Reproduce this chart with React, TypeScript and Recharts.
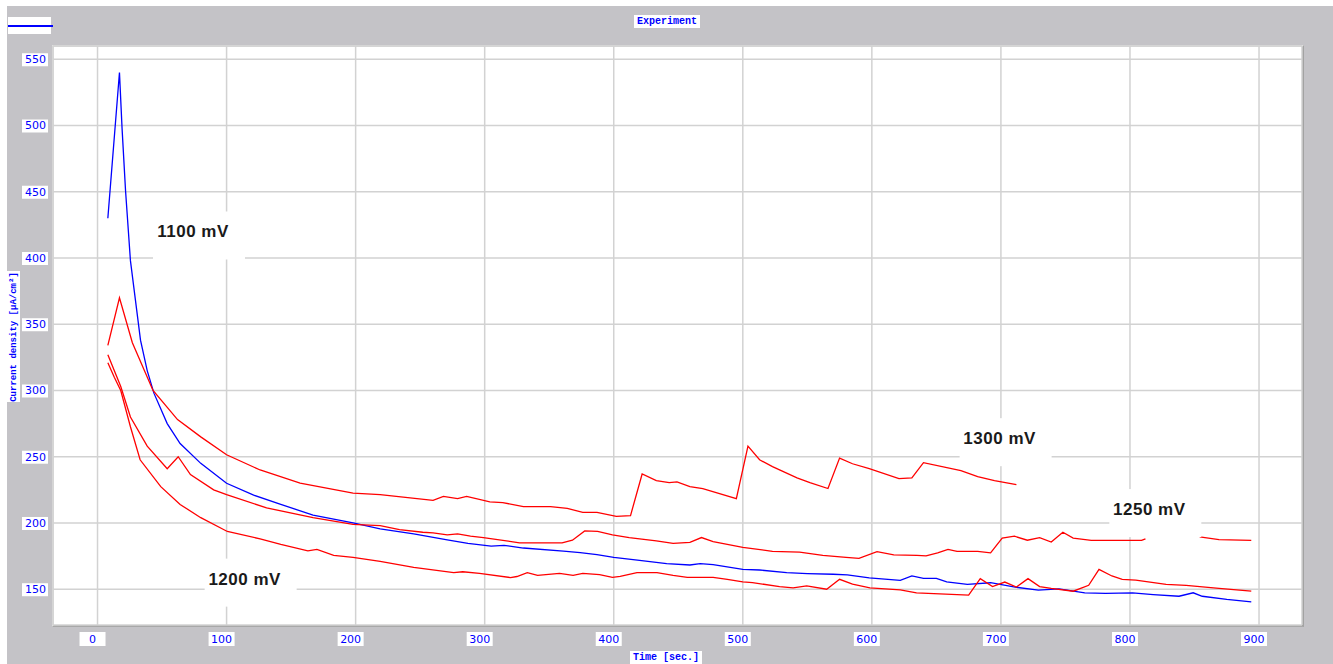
import React from 'react'
import { LineChart, Line, XAxis, YAxis, CartesianGrid, ReferenceDot } from 'recharts'

// time axis (sec.) and current density (µA/cm²) per potential
const t1100 = [8, 17, 19, 21.7, 25.5, 29.4, 33.3, 38.5, 43.7, 54, 64, 80, 100, 121, 142, 167, 198, 219, 245, 271, 287, 305, 315, 330, 361, 374, 387, 400, 420, 441, 459, 467, 477, 500, 513, 534, 550, 570, 581, 598, 622, 631, 640, 650, 658, 674, 692, 711, 729, 745, 765, 781, 802, 818, 838, 849, 856, 875, 894]
const j1100 = [430, 540, 498, 451, 398, 368, 338, 315, 298, 275, 260, 245, 230, 221, 214, 206, 200, 195.5, 191.8, 187.3, 184.6, 182.6, 183.1, 181.1, 178.8, 177.6, 176.1, 174.1, 171.8, 169.3, 168.3, 169.3, 168.5, 165, 164.5, 162.5, 161.8, 161.3, 160.8, 158.5, 156.7, 160, 158.2, 158.2, 155.6, 153.6, 154.9, 151.6, 149.3, 150.3, 147.3, 146.8, 147.3, 146, 144.7, 147.3, 144.7, 142.3, 140.5]

const t1300 = [8, 17, 27, 43, 62, 80, 100, 126, 157, 198, 219, 260, 268, 279, 286, 304, 314, 330, 351, 364, 376, 387, 402, 413, 422, 433, 443, 449, 459, 469, 495, 504, 513, 523, 542, 552, 566, 575, 585, 598, 621, 631, 640, 669, 682, 695, 712]
const j1300 = [334, 370, 336, 300, 278, 265, 251.5, 240, 230, 222.5, 221.4, 217, 220, 218.4, 220, 216, 215.4, 212.4, 212.4, 211, 208, 208, 205, 205.6, 237, 232, 230.5, 231, 227.4, 226, 218.4, 258, 247.7, 242.5, 234, 230.5, 226, 249, 244.7, 241, 233.5, 234, 245.5, 239.5, 235, 232, 229]

const t1250 = [8, 18, 25.5, 38.5, 54, 62.5, 72, 90, 100, 131, 167, 198, 219, 234, 252, 260, 271, 279, 289, 299, 327, 360, 368, 377.5, 387.5, 399, 412, 433, 446, 459, 468, 477, 500, 523, 544, 562, 580, 590, 604, 617, 635, 642, 651, 659, 666, 682, 692, 701, 710.5, 720.5, 730, 739, 748, 756, 770, 809, 812, 833, 854, 869, 894]
const j1250 = [327, 303, 280, 258, 241, 250, 236.5, 225, 221.4, 211.4, 204, 199, 198, 195, 193, 192.5, 191, 191.7, 190, 189, 185, 185, 187, 194, 193.6, 191, 189, 186.5, 184.6, 185.3, 189, 186, 181.6, 178.6, 178, 175.6, 174, 173.3, 178.3, 176, 175.6, 175.2, 177.4, 180, 178.5, 178.5, 177.4, 188.6, 190, 187, 189, 185.6, 193, 188.6, 186.8, 186.8, 188, null, 189.5, 187.5, 186.8]

const t1200 = [8, 13, 18, 25.5, 33, 49, 64, 80, 100.6, 126, 142, 163, 170, 183, 198, 219, 245, 276, 283, 296, 320, 325, 333, 341, 358, 368.5, 376, 389, 399, 405, 418, 433.5, 446, 457, 477, 488, 500, 507.5, 528.5, 539, 549.5, 565, 575, 585, 598.5, 622, 634.6, 675, 684, 693.5, 703, 712, 721, 730, 739, 756, 768, 776, 786, 794, 804.5, 828, 843.5, 869, 894]
const j1200 = [321, 310, 300, 272.6, 247.7, 227.4, 214, 204, 193.6, 188, 183.8, 179, 180, 175.6, 174, 171, 166.5, 162.5, 163.2, 162, 158.8, 159.6, 162.5, 160.5, 162, 160.5, 162, 161, 159, 159.7, 162.5, 162.5, 160.5, 159, 159, 157.5, 155.5, 155, 152, 151, 152.5, 150, 157.5, 153.8, 151, 149.5, 147.3, 145.5, 158, 152, 155.4, 151.6, 158, 152, 150.6, 148.5, 153, 165, 160, 157.4, 156.9, 153.6, 152.9, 150.6, 148.5]

const xTicks = [0, 100, 200, 300, 400, 500, 600, 700, 800, 900]
const yTicks = [150, 200, 250, 300, 350, 400, 450, 500, 550]

const labelText = ['1100 mV', '1200 mV', '1300 mV', '1250 mV']
const labelTime = [74, 114, 699, 815]
const labelDensity = [420, 158, 264, 210.5]

const zip = (t: number[], j: (number | null)[]) => t.map((v, i) => ({ t: v, j: j[i] }))

const series = [
  { key: '1100', data: zip(t1100, j1100), color: '#0000ff' },
  { key: '1300', data: zip(t1300, j1300), color: '#ff0000' },
  { key: '1250', data: zip(t1250, j1250), color: '#ff0000' },
  { key: '1200', data: zip(t1200, j1200), color: '#ff0000' },
]

const BLUE = '#0000ff'
const GRAY = '#c4c3c7'

const XTick = ({ x, y, payload }: any) => (
  <g>
    <rect x={x - 18} y={y - 1} width={26} height={14} fill="#fff" />
    <text x={x - 5} y={y + 10} textAnchor="middle" fill={BLUE} fontSize={11} fontFamily="DejaVu Sans">
      {payload.value}
    </text>
  </g>
)

const YTick = ({ x, y, payload }: any) => (
  <g>
    <rect x={x - 23} y={y - 6} width={26} height={13} fill="#fff" />
    <text x={x + 1} y={y + 4} textAnchor="end" fill={BLUE} fontSize={11} fontFamily="DejaVu Sans">
      {payload.value}
    </text>
  </g>
)

const noteShape = (text: string) => (p: any) => (
  <g>
    <rect x={p.cx - 40} y={p.cy - 20} width={92} height={48} fill="#fff" />
    <text x={p.cx} y={p.cy + 6} textAnchor="middle" fill="#1a1a1a" fontSize={17} fontWeight="bold"
      letterSpacing={0.5} fontFamily="Liberation Sans, Arial">
      {text}
    </text>
  </g>
)

const mono = '"Liberation Mono", "DejaVu Sans Mono", monospace'

export default function App() {
  return (
    <div style={{ position: 'absolute', left: 0, top: 0, width: 1333, height: 664, background: '#fff', overflow: 'hidden' }}>
      <div style={{ position: 'absolute', left: 7, top: 6, width: 1326, height: 658, background: GRAY }} />
      {/* legend swatch */}
      <div style={{ position: 'absolute', left: 8, top: 17, width: 43, height: 17, background: '#fff' }} />
      <div style={{ position: 'absolute', left: 8, top: 25, width: 45, height: 1.5, background: BLUE }} />
      {/* title */}
      <div style={{ position: 'absolute', left: 634, top: 15, width: 66, height: 13, background: '#fff', color: BLUE,
        font: `bold 10px/13px ${mono}`, textAlign: 'center' }}>Experiment</div>
      {/* y axis title */}
      <div style={{ position: 'absolute', left: 7, top: 271, width: 13, height: 131, background: '#fff' }} />
      <div style={{ position: 'absolute', left: 13.5, top: 336.5, width: 0, height: 0 }}>
        <div style={{ position: 'absolute', left: -70, top: -6, width: 140, height: 12, transform: 'rotate(-90deg)',
          color: BLUE, font: `bold 9px/12px ${mono}`, textAlign: 'center', whiteSpace: 'nowrap' }}>
          Current density [µA/cm²]
        </div>
      </div>
      {/* x axis title */}
      <div style={{ position: 'absolute', left: 630, top: 651, width: 72, height: 13, background: '#fff', color: BLUE,
        font: `bold 10px/13px ${mono}`, textAlign: 'center' }}>Time [sec.]</div>
      {/* plot frame */}
      <div style={{ position: 'absolute', left: 52, top: 45, width: 1252, height: 582, boxSizing: 'border-box', background: '#fff',
        borderTop: '2px solid #dedede', borderLeft: '2px solid #dedede', borderRight: '2px solid #a2a2a2', borderBottom: '2px solid #a8a8a8' }} />
      <div style={{ position: 'absolute', left: 0, top: 0 }}>
        <LineChart width={1333} height={664} margin={{ top: 46, right: 31, bottom: 9, left: 0 }}>
          <CartesianGrid stroke="#d2d2d2" strokeWidth={1.5} />
          <XAxis dataKey="t" type="number" domain={[-34.5, 933.3]} ticks={xTicks} allowDataOverflow
            height={30} axisLine={false} tickLine={false} tick={<XTick />} interval={0} />
          <YAxis type="number" domain={[123, 560]} ticks={yTicks} allowDataOverflow
            width={53} axisLine={false} tickLine={false} tick={<YTick />} interval={0} />
          {labelText.map((txt, i) => (
            <ReferenceDot key={txt} x={labelTime[i]} y={labelDensity[i]} r={0} ifOverflow="visible" shape={noteShape(txt)} />
          ))}
          {series.map((s) => (
            <Line key={s.key} data={s.data} dataKey="j" type="linear" stroke={s.color} strokeWidth={1.3}
              dot={false} activeDot={false} connectNulls={false} isAnimationActive={false} />
          ))}
        </LineChart>
      </div>
    </div>
  )
}
